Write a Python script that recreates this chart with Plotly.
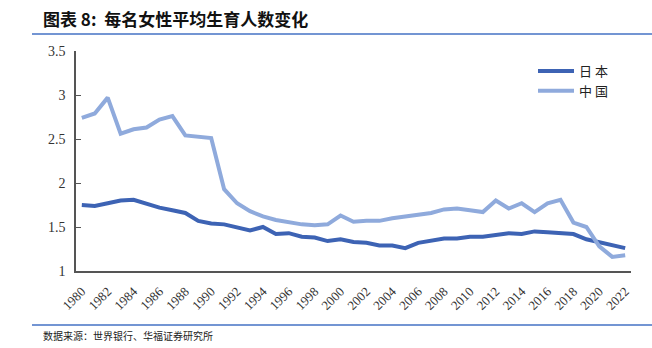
import plotly.graph_objects as go

years = list(range(1980, 2023))
japan = [1.75, 1.74, 1.77, 1.80, 1.81, 1.76, 1.72, 1.69, 1.66, 1.57,
         1.54, 1.53, 1.50, 1.46, 1.50, 1.42, 1.43, 1.39, 1.38, 1.34,
         1.36, 1.33, 1.32, 1.29, 1.29, 1.26, 1.32, 1.34, 1.37, 1.37,
         1.39, 1.39, 1.41, 1.43, 1.42, 1.45, 1.44, 1.43, 1.42, 1.36,
         1.33, 1.30, 1.26]
china = [2.74, 2.79, 2.97, 2.56, 2.61, 2.63, 2.72, 2.76, 2.54, 2.52,
         2.51, 1.93, 1.77, 1.68, 1.62, 1.58, 1.55, 1.53, 1.52, 1.53,
         1.63, 1.56, 1.57, 1.57, 1.60, 1.62, 1.64, 1.66, 1.70, 1.71,
         1.69, 1.67, 1.80, 1.71, 1.77, 1.67, 1.77, 1.81, 1.55, 1.50,
         1.28, 1.16, 1.18]
xticks = list(range(1980, 2023, 2))
yticks = [1, 1.5, 2, 2.5, 3, 3.5]
ytext = ["1", "1.5", "2", "2.5", "3", "3.5"]

W, H = 652, 348
L, R, T, B = 76, 21, 51, 77
pw, ph = W - L - R, H - T - B

def px(x):
    return (x - L) / pw

def py(y):
    return (H - B - y) / ph

fig = go.Figure()
fig.add_trace(go.Scatter(x=years, y=japan, name="日 本", mode="lines",
                         line=dict(color="#3D63B4", width=4)))
fig.add_trace(go.Scatter(x=years, y=china, name="中 国", mode="lines",
                         line=dict(color="#8FAADC", width=4)))

fig.update_layout(
    width=W, height=H,
    margin=dict(l=L, r=R, t=T, b=B),
    paper_bgcolor="white", plot_bgcolor="white",
    showlegend=True,
    legend=dict(x=px(533), y=py(56), xanchor="left", yanchor="top",
                font=dict(family="Noto Sans CJK SC", size=13, color="#222"),
                bgcolor="rgba(0,0,0,0)", itemwidth=36, tracegroupgap=4),
    xaxis=dict(range=[1979.55, 2022.45], tickmode="array", tickvals=xticks,
               ticktext=[str(v) for v in xticks], tickangle=-45,
               showgrid=False, zeroline=False, showline=True,
               linecolor="#555", linewidth=1.5, ticks="outside", ticklen=6,
               tickcolor="rgba(0,0,0,0)",
               tickfont=dict(family="Liberation Serif", size=13, color="#333")),
    yaxis=dict(range=[1, 3.5], tickmode="array", tickvals=yticks, ticktext=ytext,
               showgrid=False, zeroline=False, showline=True,
               linecolor="#555", linewidth=1.5, ticks="inside", ticklen=5,
               tickcolor="#555", tickwidth=1.2, ticklabelstandoff=6,
               tickfont=dict(family="Liberation Serif", size=14, color="#333")),
)

fig.add_annotation(xref="paper", yref="paper", x=px(41), y=py(18),
                   xanchor="left", yanchor="middle", showarrow=False,
                   text="<b>图表 8:  每名女性平均生育人数变化</b>",
                   font=dict(family="Noto Sans CJK SC", size=17, color="#111"))
fig.add_shape(type="line", xref="paper", yref="paper",
              x0=px(32), x1=px(652), y0=py(34), y1=py(34),
              line=dict(color="#4472C4", width=1.5))
fig.add_shape(type="line", xref="paper", yref="paper",
              x0=px(32), x1=px(652), y0=py(325), y1=py(325),
              line=dict(color="#4472C4", width=1.5))
fig.add_annotation(xref="paper", yref="paper", x=px(41), y=py(335),
                   xanchor="left", yanchor="middle", showarrow=False,
                   text="数据来源：世界银行、华福证券研究所",
                   font=dict(family="Noto Sans CJK SC", size=10, color="#222"))

fig.write_html("out.html")
